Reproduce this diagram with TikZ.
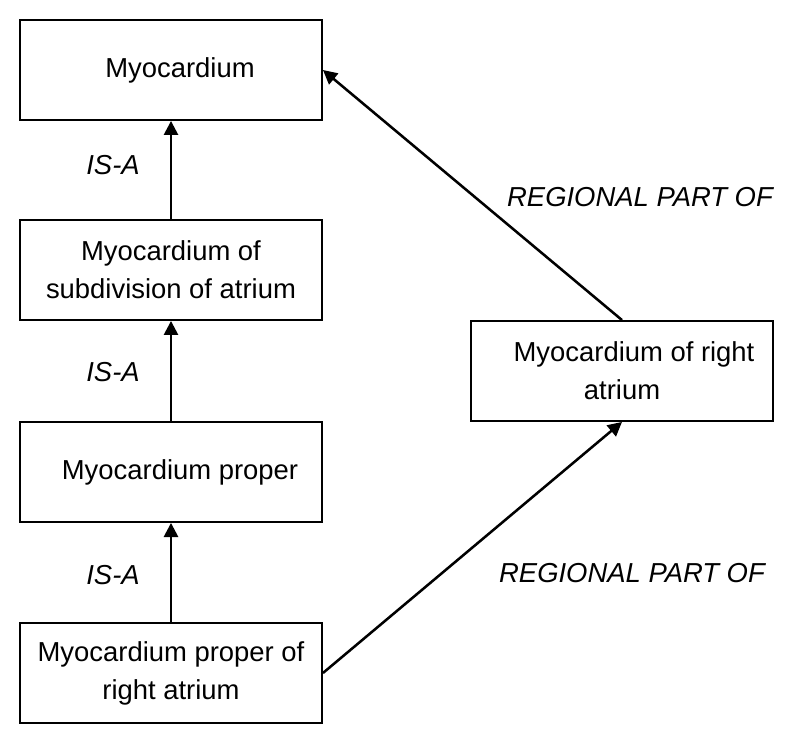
\documentclass[tikz,border=0pt]{standalone}
\usepackage{fontspec}
\setmainfont{Liberation Sans}
\usetikzlibrary{arrows.meta}

\tikzstyle{term}=[draw,line width=1.3pt,minimum width=7.55cm,minimum height=2.5cm,inner sep=0pt,align=center,font=\fontsize{19.5}{27}\selectfont]
\tikzstyle{rel}=[font=\fontsize{19.5}{23}\selectfont\itshape]
\tikzstyle{edge} = [draw,line width=1.8pt,-{Triangle[length=10pt,width=10pt]}]

\begin{document}
\begin{tikzpicture}[x=0.025cm,y=-0.025cm]
			\useasboundingbox (0,0) rectangle (800,745);
			\node[term] (myo) at (171,70) {\hspace*{0.45cm}Myocardium};
			\node[term] (sub) at (171,270) {Myocardium of\\subdivision of atrium};
			\node[term] (prop) at (171,472) {\hspace*{0.45cm}Myocardium proper};
			\node[term] (propra) at (171,673) {Myocardium proper of\\right atrium};
			\node[term] (ra) at (622,371) {\hspace*{0.6cm}Myocardium of right\\atrium};
	    		% Labels of the relations
			\node[rel] (isa1) at (113,165) {IS-A};
			\node[rel] (isa2) at (113,372) {IS-A};
			\node[rel] (isa3) at (113,575) {IS-A};
			\node[rel] (rpo1) at (640,197) {REGIONAL PART OF};
			\node[rel] (rpo2) at (632,573) {REGIONAL PART OF};
	   		 % Connect terms with arrows
	   		\foreach \source/ \dest in {sub/myo, prop/sub, propra/prop}
	        		\path[edge] (\source.north) -- (\dest.south);
			\path[edge] (ra.north) -- (myo.east);
			\path[edge] (propra.east) -- (ra.south);
		\end{tikzpicture}
\end{document}
